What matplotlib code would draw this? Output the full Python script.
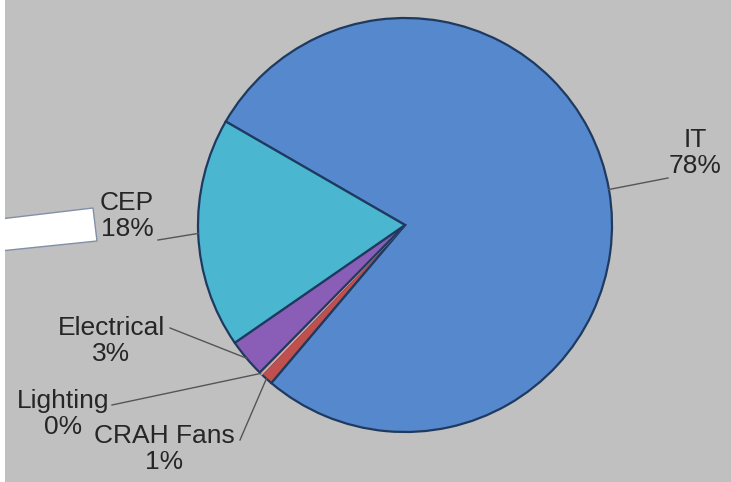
import numpy as np
import matplotlib.pyplot as plt
from matplotlib.patches import Polygon

plt.rcParams['font.family'] = ['Liberation Sans', 'DejaVu Sans']

# energy split of the facility
categories = ['IT', 'CRAH Fans', 'Lighting', 'Electrical', 'CEP']
shares = [78, 1, 0.2, 3, 18]
colors = ['#5588CC', '#C0504D', '#9BBB59', '#8A5EB6', '#4BB6D0']

W, H = 731, 482
fig = plt.figure(figsize=(W / 100, H / 100), dpi=100, facecolor='white')
ax = fig.add_axes([5 / W, 0, 1 - 5 / W, 1])
ax.add_patch(plt.Rectangle((5, 0), W, H, color='#C0C0C0', zorder=0))


def px(x, y):
    # image-style coordinates (y down) -> axes data
    return x, H - y


cx, cy = px(405, 225)
r = 207

wedges, _ = ax.pie(shares, colors=colors, startangle=150, counterclock=False,
                   center=(cx, cy), radius=r, frame=True,
                   wedgeprops=dict(edgecolor='#1F3A60', linewidth=1.6))
# the near-zero lighting slice only shows as a thin light streak
wedges[2].set_edgecolor('#E8A0A0')
wedges[2].set_linewidth(1.2)
ax.set_xlim(5, W)
ax.set_ylim(0, H)
ax.set_aspect('equal')
ax.axis('off')

total = sum(shares)
# text block centre and the point where its leader line starts
label_pos = {
    'IT': ((695, 153), (668, 178)),
    'CEP': ((127, 216), (158, 240)),
    'Electrical': ((111, 341), (170, 328)),
    'Lighting': ((63, 414), (112, 405)),
    'CRAH Fans': ((164, 449), (240, 440)),
}

for w, name, val in zip(wedges, categories, shares):
    (tx, ty), (lx, ly) = label_pos[name]
    pct = 100 * val / total
    ax.text(*px(tx, ty), f'{name}\n{pct:.0f}%', ha='center', va='center',
            fontsize=19, color='#262626', linespacing=1.15)
    mid = np.deg2rad((w.theta1 + w.theta2) / 2)
    ex, ey = cx + r * np.cos(mid), cy + r * np.sin(mid)
    sx, sy = px(lx, ly)
    ax.plot([sx, ex], [sy, ey], color='#555555', lw=1.0, zorder=5)

# stray white box on the left edge
box = Polygon([px(0, 219), px(93, 208), px(97, 241), px(0, 251)],
              closed=True, facecolor='white', edgecolor='#8090A8', lw=1.0, zorder=6)
ax.add_patch(box)

fig.savefig('out.png', dpi=100, facecolor='white')
